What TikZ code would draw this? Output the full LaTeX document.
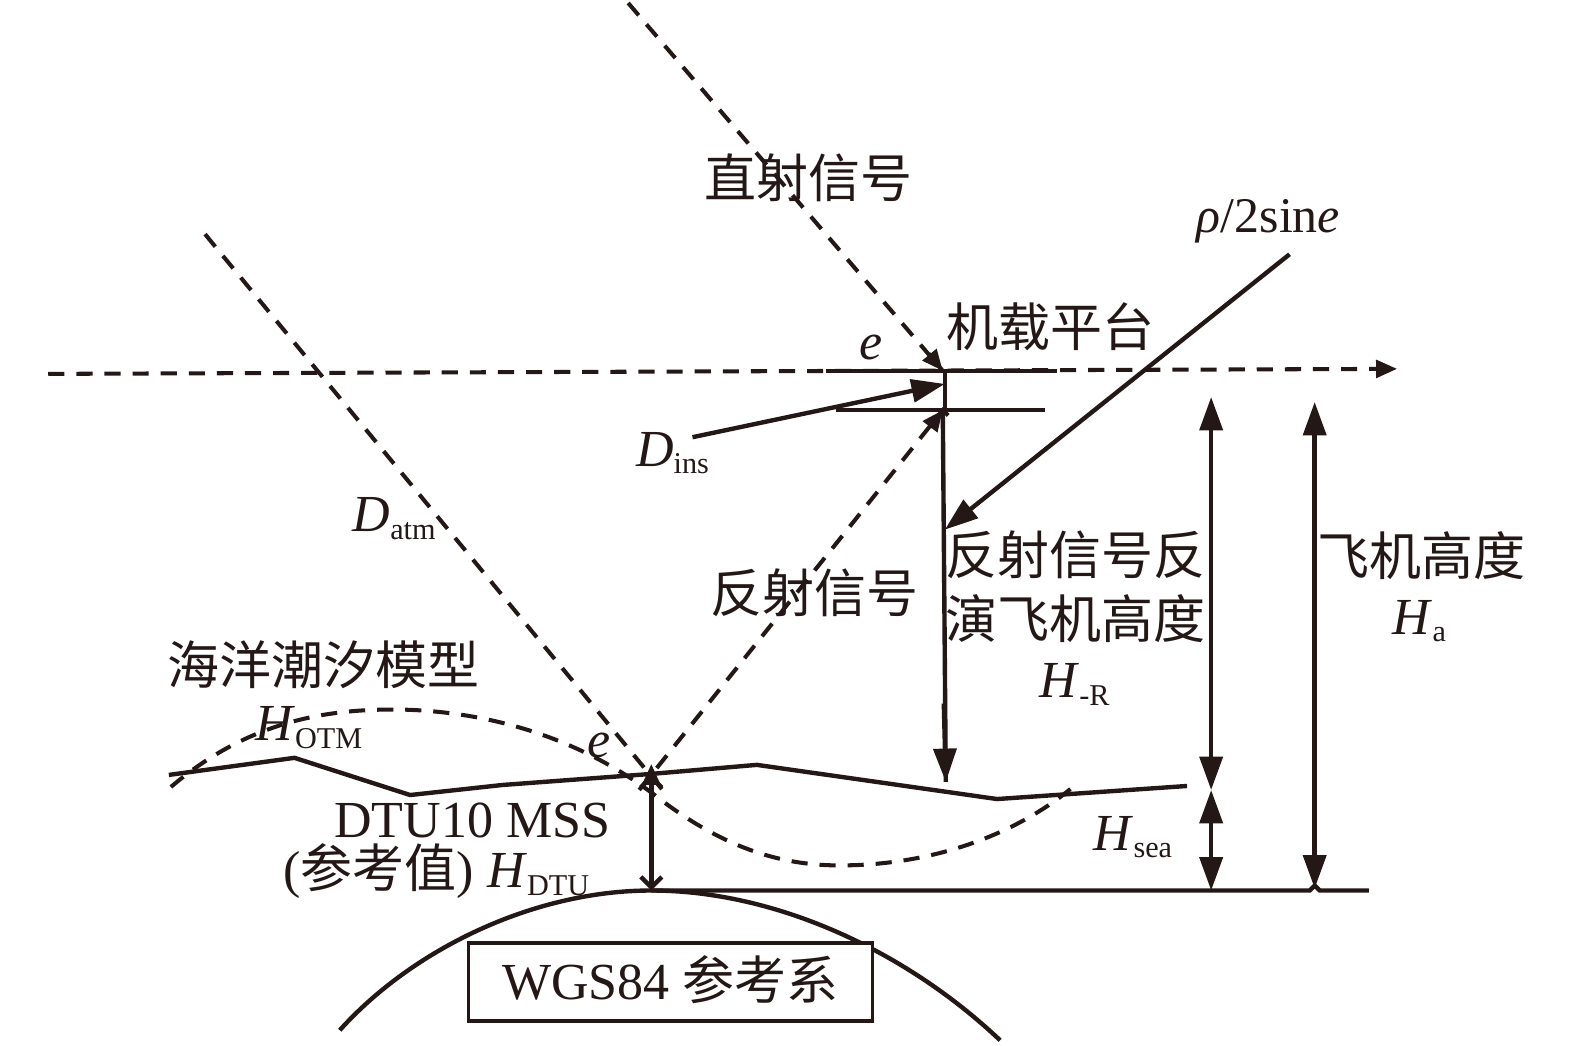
\documentclass[tikz,border=0pt]{standalone}
\usepackage{fontspec}
\setmainfont{Liberation Serif}
\newfontfamily\cjk{Noto Sans CJK SC}
\usetikzlibrary{arrows.meta}
\definecolor{ink}{HTML}{231815}
\def\fsbig{\fontsize{14.8}{17}\selectfont}
\def\fssub{\fontsize{8.6}{10}\selectfont}
\newcommand{\sym}[2]{\textit{#1}\textsubscript{\fssub #2}}
\tikzset{
    label text/.style = {
        inner sep=0pt, text=ink, font=\fsbig, align=center
    },
    wave/.style = {
        draw=ink, line width=1.15pt, dash pattern=on 4.6pt off 3.4pt
    },
    solid line/.style = {
        draw=ink, line width=1.25pt
    },
    thin line/.style = {
        draw=ink, line width=0.95pt
    },
    big tips/.style = {
        >={Triangle[width=6.5pt,length=9.5pt]}
    },
    small tips/.style = {
        >={Triangle[width=5pt,length=6pt]}
    },
    barb tips/.style = {
        >={Straight Barb[width=6pt,length=3pt]}
    },
}
\begin{document}
\begin{tikzpicture}[x=0.01005cm, y=-0.01005cm]
        \useasboundingbox (0,0) rectangle (1567,1040);

        % Place the points
        \coordinate (dirtop) at (625,3);
        \coordinate (plane) at (938,369);
        \coordinate (lefttop) at (204,233);
        \coordinate (leftend) at (660,787);
        \coordinate (refl) at (648,760);
        \coordinate (reflend) at (636,786);
        \coordinate (antenna) at (938,408);
        \coordinate (antennaend) at (950,420);
        \coordinate (flightl) at (48,372);
        \coordinate (flightr) at (1390,367);
        \coordinate (geoid) at (648,886);
        \coordinate (surf) at (648,770);
        \coordinate (surfr) at (941,778);
        \coordinate (sea) at (1205,786);

        % Place the labels
        \node [label text] (direct) at (804,177) {\cjk 直射信号};
        \node [label text] (platform) at (1045,325) {\cjk 机载平台};
        \node [label text] (etop) at (867,346) {\textit{e}};
        \node [label text, font=\fontsize{14.2}{16}\selectfont] (rho) at (1262,220) {\textit{ρ}/2sin\textit{e}};
        \node [label text] (dins) at (670,451) {\sym{D}{ins}};
        \node [label text] (datm) at (393,516) {\sym{D}{atm}};
        \node [label text] (reflected) at (810,590) {\cjk 反射信号};
        \node [label text] (retrievedone) at (1070,552) {\cjk 反射信号反};
        \node [label text] (retrievedtwo) at (1070,615) {\cjk 演飞机高度};
        \node [label text] (hr) at (1070,681) {\sym{H}{-R}};
        \node [label text] (height) at (1414,553) {\cjk 飞机高度};
        \node [label text] (ha) at (1413,618) {\sym{H}{a}};
        \node [label text] (tide) at (322,661) {\cjk 海洋潮汐模型};
        \node [label text] (hotm) at (308,724) {\sym{H}{OTM}};
        \node [label text] (ebot) at (596,742) {\textit{e}};
        \node [label text] (dtu) at (470,816) {DTU10 MSS};
        \node [label text] (hdtu) at (435,867) {({\cjk 参考值}) \sym{H}{DTU}};
        \node [label text] (hsea) at (1128,833) {\sym{H}{sea}};

        % Draw connections
        \draw [wave, small tips, ->] (flightl) -- (flightr);
        \draw [wave] (dirtop) -- (plane);
        \draw [wave] (lefttop) -- (leftend);
        \draw [wave] (reflend) -- (antenna) -- (antennaend);
        \draw [wave] (170,783) .. controls (250,715) and (330,705) .. (400,706)
            .. controls (480,708) and (570,730) .. (650,790)
            .. controls (720,845) and (780,862) .. (840,861)
            .. controls (930,860) and (1010,830) .. (1065,785);

        \begin{scope}[small tips]
            \draw [solid line, ->] (924,352) -- (plane);
            \draw [solid line, ->] (surf) -- (refl);
            \draw [solid line, ->] (925,425) -- (antenna);
        \end{scope}

        \begin{scope}[big tips]
            \draw [solid line, ->] (689,435) -- (940,382);
            \draw [solid line, ->] (1283,253) -- (940,527);
            \draw [solid line] (940,369) -- (940,408);
            \draw [solid line] (antenna) -- (surfr);
            \draw [solid line, ->] (939,700) -- (surfr);
            \draw [solid line, <->] (1205,395) -- (sea);
            \draw [solid line, <->] (sea) -- (1205,886);
            \draw [solid line, <->] (1308,400) -- (1308,884);
        \end{scope}

        \draw [thin line] (822,369) -- (1052,369);
        \draw [thin line] (832,408) -- (1040,408);
        \draw [solid line] (168,771) -- (293,754) -- (408,791) -- (500,781)
            -- (surf) -- (753,761) -- (992,795) -- (1181,782);

        \draw [solid line, barb tips, <->] (surf) -- (geoid);
        \draw [solid line] (geoid) -- (1303,886) -- (1308,881) -- (1313,886) -- (1362,886);
        \draw [solid line] (338,1025) .. controls (410,945) and (530,886) .. (geoid)
            .. controls (770,886) and (900,945) .. (995,1035);

        % Box on top of the arc
        \node [draw=ink, fill=white, line width=1pt, minimum width=4.04cm, minimum height=0.78cm, inner sep=0pt] (wgs) at (667,977) {};
        \node [label text] (wgstext) at (667,975) {WGS84 {\cjk 参考系}};
    \end{tikzpicture}
\end{document}
